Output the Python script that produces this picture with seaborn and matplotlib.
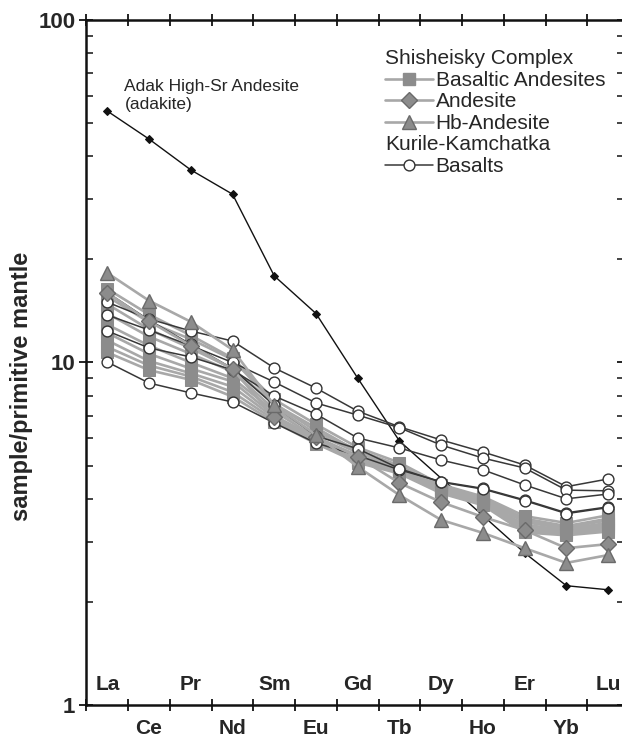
import matplotlib.pyplot as plt
from matplotlib.lines import Line2D
import numpy as np
import pandas as pd
import seaborn as sns


ELEMENTS = ["La", "Ce", "Pr", "Nd", "Sm", "Eu", "Gd", "Tb", "Dy", "Ho", "Er", "Yb", "Lu"]

# Adak high-Sr andesite (no Dy, Ho values)
ADAKITE = [54.2, 44.9, 36.5, 31.0, 17.9, 13.9, 9.0, 5.9, np.nan, np.nan, 2.78, 2.23, 2.17]

# Shisheisky Complex
BASALTIC_ANDESITES = [
    [16.4, 13.8, 12.0, 10.3, 7.8, 6.6, 5.65, 5.10, 4.40, 4.06, 3.56, 3.40, 3.58],
    [15.6, 13.1, 11.7, 10.2, 7.6, 6.3, 5.55, 5.00, 4.35, 4.02, 3.50, 3.33, 3.50],
    [14.8, 12.5, 11.0, 9.6, 7.55, 6.45, 5.50, 4.95, 4.32, 4.00, 3.45, 3.30, 3.46],
    [13.9, 11.9, 10.6, 9.4, 7.3, 6.2, 5.45, 4.90, 4.28, 3.97, 3.42, 3.27, 3.40],
    [12.9, 11.2, 10.0, 9.0, 7.2, 6.05, 5.35, 4.88, 4.26, 3.93, 3.36, 3.24, 3.37],
    [12.2, 10.6, 9.6, 8.8, 7.0, 6.0, 5.30, 4.82, 4.22, 3.91, 3.31, 3.21, 3.33],
    [11.6, 10.1, 9.3, 8.5, 6.9, 5.95, 5.20, 4.80, 4.20, 3.88, 3.27, 3.19, 3.29],
    [11.1, 9.8, 9.1, 8.2, 6.8, 5.9, 5.15, 4.77, 4.18, 3.86, 3.23, 3.16, 3.25],
    [10.7, 9.5, 8.9, 7.95, 6.7, 5.8, 5.10, 4.74, 4.15, 3.83, 3.19, 3.13, 3.21],
]
ANDESITE = [
    [15.96, 13.2, 11.2, 9.57, 6.93, 6.06, 5.30, 4.45, 3.91, 3.54, 3.24, 2.87, 2.95],
]
HB_ANDESITE = [
    [18.25, 15.15, 13.15, 10.9, 7.5, 6.14, 4.96, 4.10, 3.47, 3.18, 2.87, 2.60, 2.74],
]

# Kurile-Kamchatka
BASALTS = [
    [15.0, 13.4, 12.36, 11.55, 9.64, 8.42, 7.21, 6.49, 5.94, 5.48, 5.02, 4.34, 4.57],
    [13.76, 12.44, 11.2, 10.0, 8.77, 7.62, 7.02, 6.45, 5.74, 5.26, 4.92, 4.24, 4.22],
    [12.36, 11.03, 10.38, 9.51, 7.98, 7.07, 6.02, 5.63, 5.19, 4.86, 4.39, 4.00, 4.13],
    [10.03, 8.71, 8.15, 7.67, 6.66, 5.82, 5.35, 4.86, 4.49, 4.29, 3.97, 3.64, 3.79],
    [16.0, 13.3, 11.3, 9.6, 7.5, 6.1, 5.6, 4.9, 4.47, 4.27, 3.95, 3.62, 3.77],
]

GREY_LINE = "#a8a8a8"
GREY_FILL = "#8c8c8c"
GREY_EDGE = "#6a6a6a"
DARK_LINE = "#383838"

STYLES = {
    "adakite": dict(color="#111111", lw=1.0, marker="D", markersize=4.2,
                    markerfacecolor="#111111", markeredgecolor="#111111"),
    "basaltic": dict(color=GREY_LINE, lw=1.9, marker="s", markersize=9,
                     markerfacecolor=GREY_FILL, markeredgecolor=GREY_FILL),
    "basalts": dict(color=DARK_LINE, lw=1.1, marker="o", markersize=7.8,
                    markerfacecolor="white", markeredgecolor="#333333", markeredgewidth=1.0),
    "andesite": dict(color=GREY_LINE, lw=1.9, marker="D", markersize=8.5,
                     markerfacecolor=GREY_FILL, markeredgecolor=GREY_EDGE, markeredgewidth=1.0),
    "hb": dict(color=GREY_LINE, lw=1.9, marker="^", markersize=10,
               markerfacecolor=GREY_FILL, markeredgecolor=GREY_EDGE, markeredgewidth=1.0),
}


def to_frame(rows, group):
    records = []
    for n, row in enumerate(rows):
        for i, v in enumerate(row):
            records.append({"group": group, "sample": f"{group}{n}", "pos": i, "value": v})
    return pd.DataFrame(records).dropna()


sns.set_style("white")
plt.rcParams["font.family"] = ["Liberation Sans", "DejaVu Sans"]

fig = plt.figure(figsize=(6.22, 7.37), dpi=100)
ax = fig.add_axes([0.139, 0.0434, 0.8635, 0.9295])

order = [
    ([ADAKITE], "adakite"),
    (BASALTIC_ANDESITES, "basaltic"),
    (BASALTS, "basalts"),
    (ANDESITE, "andesite"),
    (HB_ANDESITE, "hb"),
]
for rows, key in order:
    frame = to_frame(rows, key)
    sns.lineplot(data=frame, x="pos", y="value", units="sample", estimator=None,
                 sort=False, legend=False, ax=ax, **STYLES[key])

ax.set_yscale("log")
ax.set_ylim(1, 100)
ax.set_xlim(-0.5, 12.37)
ax.set_xlabel("")
ax.set_ylabel("sample/primitive mantle", fontsize=17, fontweight="bold")
ax.yaxis.set_label_coords(-0.1, 0.465)

ax.set_yticks([1, 10, 100], ["1", "10", "100"], fontsize=16, fontweight="bold")
ax.set_xticks(np.arange(-0.5, 12.5, 1.0), [])

for side in ["left", "top", "bottom"]:
    ax.spines[side].set_linewidth(1.8)
    ax.spines[side].set_color("#111111")
ax.spines["right"].set_visible(False)

ax.tick_params(axis="x", which="major", direction="inout", length=8, width=1.3,
               top=True, bottom=True, color="#111111")
ax.tick_params(axis="y", which="major", direction="inout", length=10, width=1.3,
               left=True, right=True, pad=3, color="#111111")
ax.tick_params(axis="y", which="minor", direction="in", length=5, width=1.1,
               left=True, right=True, color="#111111")

# element labels alternate inside / below the axis
for i, name in enumerate(ELEMENTS):
    offset = 15 if i % 2 == 0 else -17
    ax.annotate(name, xy=(i, 0), xycoords=("data", "axes fraction"),
                xytext=(0, offset), textcoords="offset points",
                ha="center", va="center", fontsize=15, fontweight="bold")

ax.text(0.41, 60, "Adak High-Sr Andesite\n(adakite)", ha="left", va="center",
        fontsize=12.5, linespacing=1.25)

headers = ["Shisheisky Complex", "Kurile-Kamchatka"]
blank = Line2D([], [], color="none")
handles = [
    blank,
    Line2D([], [], **STYLES["basaltic"]),
    Line2D([], [], **STYLES["andesite"]),
    Line2D([], [], **STYLES["hb"]),
    blank,
    Line2D([], [], **STYLES["basalts"]),
]
labels = [headers[0], "Basaltic Andesites", "Andesite", "Hb-Andesite", headers[1], "Basalts"]
leg = ax.legend(handles, labels, loc="upper left", bbox_to_anchor=(0.556, 0.957),
                frameon=False, fontsize=15, handlelength=2.3, handletextpad=0.12,
                labelspacing=0.12, borderpad=0, borderaxespad=0)
for col in leg._legend_handle_box.get_children():
    for row in col.get_children():
        handlebox, textbox = row.get_children()
        if textbox._text.get_text() in headers:
            handlebox.width = 0
            row.sep = 0

fig.savefig("out.png", dpi=100)
